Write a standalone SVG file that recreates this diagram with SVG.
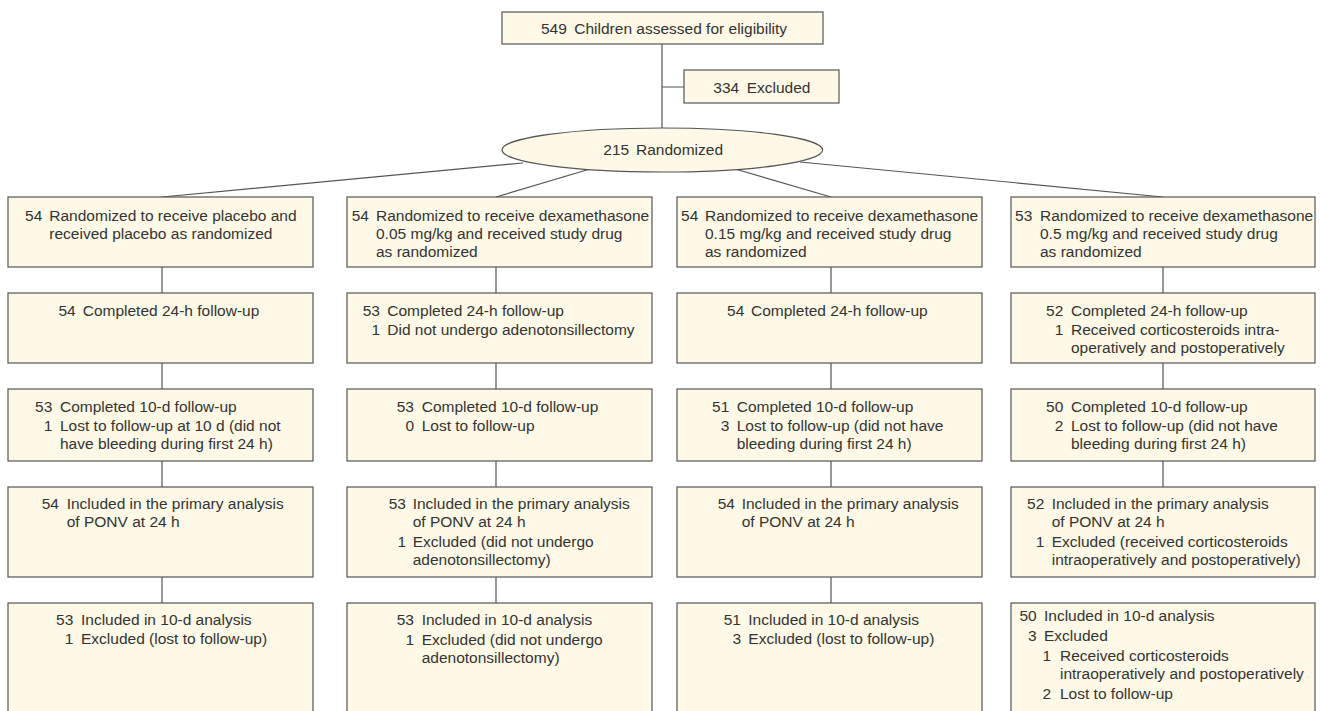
<svg xmlns="http://www.w3.org/2000/svg" width="1321" height="711" viewBox="0 0 1321 711">
<style>
.box{fill:#fdf9e6;stroke:#555;stroke-width:1.2}
.con{stroke:#555;stroke-width:1.2;fill:none}
text{font-family:"Liberation Sans",Arial,sans-serif;font-size:15.5px;fill:#333}
.n{text-anchor:end}
</style>
<rect width="1321" height="711" fill="#fff"/>
<g id="connectors">
<path class="con" d="M662 44V128M662 87H684"/>
<path class="con" d="M523 163L162 197M590 169L496 197M735 169L831 197M800 162L1163 197"/>
<path class="con" d="M162 267V293M162 363V389M162 461V487M162 577V603"/>
<path class="con" d="M496 267V293M496 363V389M496 461V487M496 577V603"/>
<path class="con" d="M831 267V293M831 363V389M831 461V487M831 577V603"/>
<path class="con" d="M1163 267V293M1163 363V389M1163 461V487"/>
</g>
<g id="assessed"><rect class="box" x="502" y="12" width="321" height="32"/>
<text x="541" y="34">549</text><text x="574.3" y="34">Children assessed for eligibility</text></g>
<g id="excluded"><rect class="box" x="684" y="70" width="155" height="33"/>
<text x="713.3" y="92.5">334</text><text x="746.7" y="92.5">Excluded</text></g>
<g id="randomized"><ellipse class="box" cx="662.3" cy="150" rx="160.3" ry="22"/>
<text x="603.3" y="155">215</text><text x="636" y="155">Randomized</text></g>

<g id="c1r1"><rect class="box" x="8" y="197" width="305" height="70"/>
<text class="n" x="42.3" y="221">54</text><text x="49.3" y="221">Randomized to receive placebo and</text><text x="49.3" y="239">received placebo as randomized</text></g>
<g id="c1r2"><rect class="box" x="8" y="293" width="305" height="70"/>
<text class="n" x="75.7" y="316">54</text><text x="82.7" y="316">Completed 24-h follow-up</text></g>
<g id="c1r3"><rect class="box" x="8" y="389" width="305" height="72"/>
<text class="n" x="52.3" y="412">53</text><text x="60" y="412">Completed 10-d follow-up</text>
<text class="n" x="52.3" y="431">1</text><text x="60" y="431">Lost to follow-up at 10 d (did not</text><text x="60" y="449">have bleeding during first 24 h)</text></g>
<g id="c1r4"><rect class="box" x="8" y="487" width="305" height="90"/>
<text class="n" x="59" y="509">54</text><text x="66.7" y="509">Included in the primary analysis</text><text x="66.7" y="527">of PONV at 24 h</text></g>
<g id="c1r5"><rect class="box" x="8" y="603" width="305" height="130"/>
<text class="n" x="73.3" y="625">53</text><text x="81" y="625">Included in 10-d analysis</text>
<text class="n" x="73.3" y="644">1</text><text x="81" y="644">Excluded (lost to follow-up)</text></g>

<g id="c2r1"><rect class="box" x="347" y="197" width="305" height="70"/>
<text class="n" x="369" y="221">54</text><text x="376" y="221">Randomized to receive dexamethasone</text><text x="376" y="239">0.05 mg/kg and received study drug</text><text x="376" y="257">as randomized</text></g>
<g id="c2r2"><rect class="box" x="347" y="293" width="305" height="70"/>
<text class="n" x="380" y="316">53</text><text x="387.3" y="316">Completed 24-h follow-up</text>
<text class="n" x="380" y="335">1</text><text x="387.3" y="335">Did not undergo adenotonsillectomy</text></g>
<g id="c2r3"><rect class="box" x="347" y="389" width="305" height="72"/>
<text class="n" x="414" y="412">53</text><text x="421.7" y="412">Completed 10-d follow-up</text>
<text class="n" x="414" y="431">0</text><text x="421.7" y="431">Lost to follow-up</text></g>
<g id="c2r4"><rect class="box" x="347" y="487" width="305" height="90"/>
<text class="n" x="406" y="509">53</text><text x="412.7" y="509">Included in the primary analysis</text><text x="412.7" y="527">of PONV at 24 h</text>
<text class="n" x="406" y="547">1</text><text x="412.7" y="547">Excluded (did not undergo</text><text x="412.7" y="565">adenotonsillectomy)</text></g>
<g id="c2r5"><rect class="box" x="347" y="603" width="305" height="130"/>
<text class="n" x="414" y="625">53</text><text x="421.7" y="625">Included in 10-d analysis</text>
<text class="n" x="414" y="645">1</text><text x="421.7" y="645">Excluded (did not undergo</text><text x="421.7" y="663">adenotonsillectomy)</text></g>

<g id="c3r1"><rect class="box" x="677" y="197" width="305" height="70"/>
<text class="n" x="698.3" y="221">54</text><text x="705" y="221">Randomized to receive dexamethasone</text><text x="705" y="239">0.15 mg/kg and received study drug</text><text x="705" y="257">as randomized</text></g>
<g id="c3r2"><rect class="box" x="677" y="293" width="305" height="70"/>
<text class="n" x="744.3" y="316">54</text><text x="751" y="316">Completed 24-h follow-up</text></g>
<g id="c3r3"><rect class="box" x="677" y="389" width="305" height="72"/>
<text class="n" x="729.3" y="412">51</text><text x="736.7" y="412">Completed 10-d follow-up</text>
<text class="n" x="729.3" y="431">3</text><text x="736.7" y="431">Lost to follow-up (did not have</text><text x="736.7" y="449">bleeding during first 24 h)</text></g>
<g id="c3r4"><rect class="box" x="677" y="487" width="305" height="90"/>
<text class="n" x="735" y="509">54</text><text x="741.7" y="509">Included in the primary analysis</text><text x="741.7" y="527">of PONV at 24 h</text></g>
<g id="c3r5"><rect class="box" x="677" y="603" width="305" height="130"/>
<text class="n" x="741" y="625">51</text><text x="748.3" y="625">Included in 10-d analysis</text>
<text class="n" x="741" y="644">3</text><text x="748.3" y="644">Excluded (lost to follow-up)</text></g>

<g id="c4r1"><rect class="box" x="1011" y="197" width="304" height="70"/>
<text class="n" x="1032.3" y="221">53</text><text x="1040" y="221">Randomized to receive dexamethasone</text><text x="1040" y="239">0.5 mg/kg and received study drug</text><text x="1040" y="257">as randomized</text></g>
<g id="c4r2"><rect class="box" x="1011" y="293" width="304" height="70"/>
<text class="n" x="1063.3" y="316">52</text><text x="1071" y="316">Completed 24-h follow-up</text>
<text class="n" x="1063.3" y="335">1</text><text x="1071" y="335">Received corticosteroids intra-</text><text x="1071" y="353">operatively and postoperatively</text></g>
<g id="c4r3"><rect class="box" x="1011" y="389" width="304" height="72"/>
<text class="n" x="1063.3" y="412">50</text><text x="1071" y="412">Completed 10-d follow-up</text>
<text class="n" x="1063.3" y="431">2</text><text x="1071" y="431">Lost to follow-up (did not have</text><text x="1071" y="449">bleeding during first 24 h)</text></g>
<g id="c4r4"><rect class="box" x="1011" y="487" width="304" height="90"/>
<text class="n" x="1044.3" y="509">52</text><text x="1051.7" y="509">Included in the primary analysis</text><text x="1051.7" y="527">of PONV at 24 h</text>
<text class="n" x="1044.3" y="547">1</text><text x="1051.7" y="547">Excluded (received corticosteroids</text><text x="1051.7" y="565">intraoperatively and postoperatively)</text></g>
<g id="c4r5"><rect class="box" x="1011" y="603" width="304" height="130"/>
<text class="n" x="1036.7" y="621">50</text><text x="1044" y="621">Included in 10-d analysis</text>
<text class="n" x="1036.7" y="641">3</text><text x="1044" y="641">Excluded</text>
<text class="n" x="1051" y="661">1</text><text x="1060" y="661">Received corticosteroids</text><text x="1060" y="679">intraoperatively and postoperatively</text>
<text class="n" x="1051" y="699">2</text><text x="1060" y="699">Lost to follow-up</text></g>
</svg>
